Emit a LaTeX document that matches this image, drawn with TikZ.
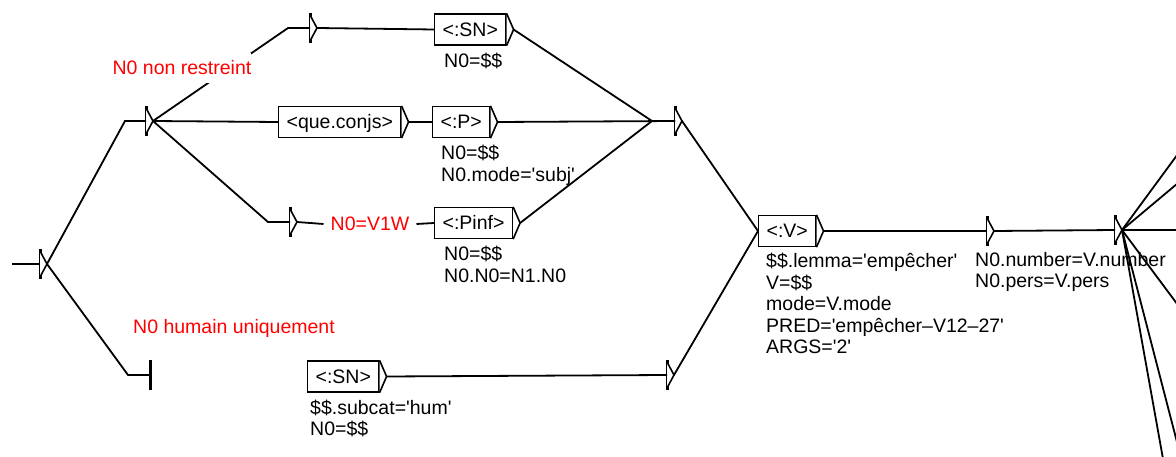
\documentclass[tikz,border=0pt]{standalone}
\usepackage{fontspec}
\setmainfont{Liberation Sans}
\usetikzlibrary{calc,positioning}

\newcommand\q{\textquotesingle}

\tikzset{
  unitbox/.style={draw, line width=1.3pt, minimum height=31pt, inner xsep=8pt, inner ysep=0pt,
                  text height=14pt, text depth=0pt, font=\fontsize{19.5}{21.5}\selectfont},
  boxtip/.style={line width=1.6pt, fill=white},
  gatenode/.style={minimum width=7pt, minimum height=30pt, inner sep=0pt, outer sep=0pt},
  gatebar/.style={line width=3pt},
  gatetip/.style={line width=1.6pt, fill=white},
  trans/.style={line width=1.8pt},
  outlbl/.style={anchor=north west, align=left, inner sep=0pt, font=\fontsize{19.5}{21.5}\selectfont},
  comment/.style={text=red, inner sep=0pt, font=\fontsize{19.5}{21.5}\selectfont}
}

\newcommand\gate[2]{%
  \node[gatenode] (#1) at (#2) {};
  \draw[gatebar] (#1.north west) -- (#1.south west);
  \draw[gatetip] ([yshift=-2pt]#1.north west) -- (#1.east) -- ([yshift=2pt]#1.south west);
}

\newcommand\ubox[3]{%
  \node[unitbox, anchor=west] (#1) at (#2) {#3};
  \draw[boxtip] (#1.north east) -- ([xshift=7pt]#1.east) -- (#1.south east);
  \coordinate (#1-out) at ([xshift=7pt]#1.east);
}

\begin{document}
\begin{tikzpicture}[x=1pt, y=-1pt]
\useasboundingbox (0,0) rectangle (1176,457);
\clip (0,0) rectangle (1176,457);

% states
\coordinate (in) at (12,264);
\gate{g0}{43.5,264}
\gate{g1}{149.5,121}
\node[gatenode] (stop) at (153.5,375) {};
\draw[gatebar] (stop.north west) -- (stop.south west);

\gate{g2}{313.5,28}
\gate{g3}{293.5,222}
\ubox{sn1}{434,29.5}{<:SN>}
\ubox{que}{278,122}{<que.conjs>}
\ubox{p}{432,122}{<:P>}
\node[comment, inner xsep=7pt] (w1) at (370,224) {N0=V1W};
\ubox{pinf}{434,223}{<:Pinf>}
\gate{g4}{678.5,121}

\ubox{sn2}{307,376.5}{<:SN>}
\gate{g5}{670.5,375}

\ubox{v}{758,231}{<:V>}
\gate{g6}{990.5,231}
\gate{g7}{1118.5,230}

\coordinate (o1) at (1186.4,142.4);
\coordinate (o2) at (1186.4,176);
\coordinate (o3) at (1190,230);
\coordinate (o4) at (1186.4,316.4);
\coordinate (o5) at (1186.4,478.4);
\coordinate (o6) at (1170.8,502.4);

% outputs
\node[outlbl] (sn1l) at ([xshift=10pt,yshift=-7pt]sn1.south west) {N0=\$\$};
\node[outlbl] (pl) at ([xshift=9pt,yshift=-7pt]p.south west) {N0=\$\$\\N0.mode=\q subj\q};
\node[outlbl] (pinfl) at ([xshift=10pt,yshift=-7pt]pinf.south west) {N0=\$\$\\N0.N0=N1.N0};
\node[outlbl] (vl) at ([xshift=8pt,yshift=-6pt]v.south west)
  {\$\$.lemma=\q empêcher\q\\V=\$\$\\mode=V.mode\\PRED=\q empêcher--V12--27\q\\ARGS=\q 2\q};
\node[outlbl] (sn2l) at ([xshift=3pt,yshift=-7pt]sn2.south west) {\$\$.subcat=\q hum\q\\N0=\$\$};
\node[outlbl] (g6l) at ([xshift=-12pt,yshift=-6pt]g6.south west) {N0.number=V.number\\N0.pers=V.pers};

% transitions
\draw[trans] (in) -- (g0.west);
\draw[trans] (g0.east) -- ([xshift=-21pt]g1.west) -- (g1.west);
\draw[trans] (g0.east) -- ([xshift=-22pt]stop.west) -- (stop.west);
\draw[trans] (g1.east) -- ([xshift=-22pt]g2.west) -- (g2.west);
\draw[trans] (g1.east) -- (que.west);
\draw[trans] (g1.east) -- ([xshift=-22pt]g3.west) -- (g3.west);
\draw[trans] (g2.east) -- (sn1.west);
\draw[trans] (que-out) -- (p.west);
\draw[trans] (g3.east) -- (w1.west);
\draw[trans] (w1.east) -- (pinf.west);
\draw[trans] (sn1-out) -- ([xshift=-23pt]g4.west) -- (g4.west);
\draw[trans] (p-out) -- (g4.west);
\draw[trans] (pinf-out) -- ([xshift=-23pt]g4.west);
\draw[trans] (g4.east) -- (v.west);
\draw[trans] (sn2-out) -- (g5.west);
\draw[trans] (g5.east) -- (v.west);
\draw[trans] (v-out) -- (g6.west);
\draw[trans] (g6.east) -- (g7.west);
\foreach \e in {o1,o2,o3,o4,o5,o6}
  \draw[trans] (g7.east) -- (\e);

% comments
\node[comment, fill=white, inner ysep=8pt] (c1) at (182,68) {N0 non restreint};
\node[comment] (c2) at (234,328) {N0 humain uniquement};
\end{tikzpicture}
\end{document}
